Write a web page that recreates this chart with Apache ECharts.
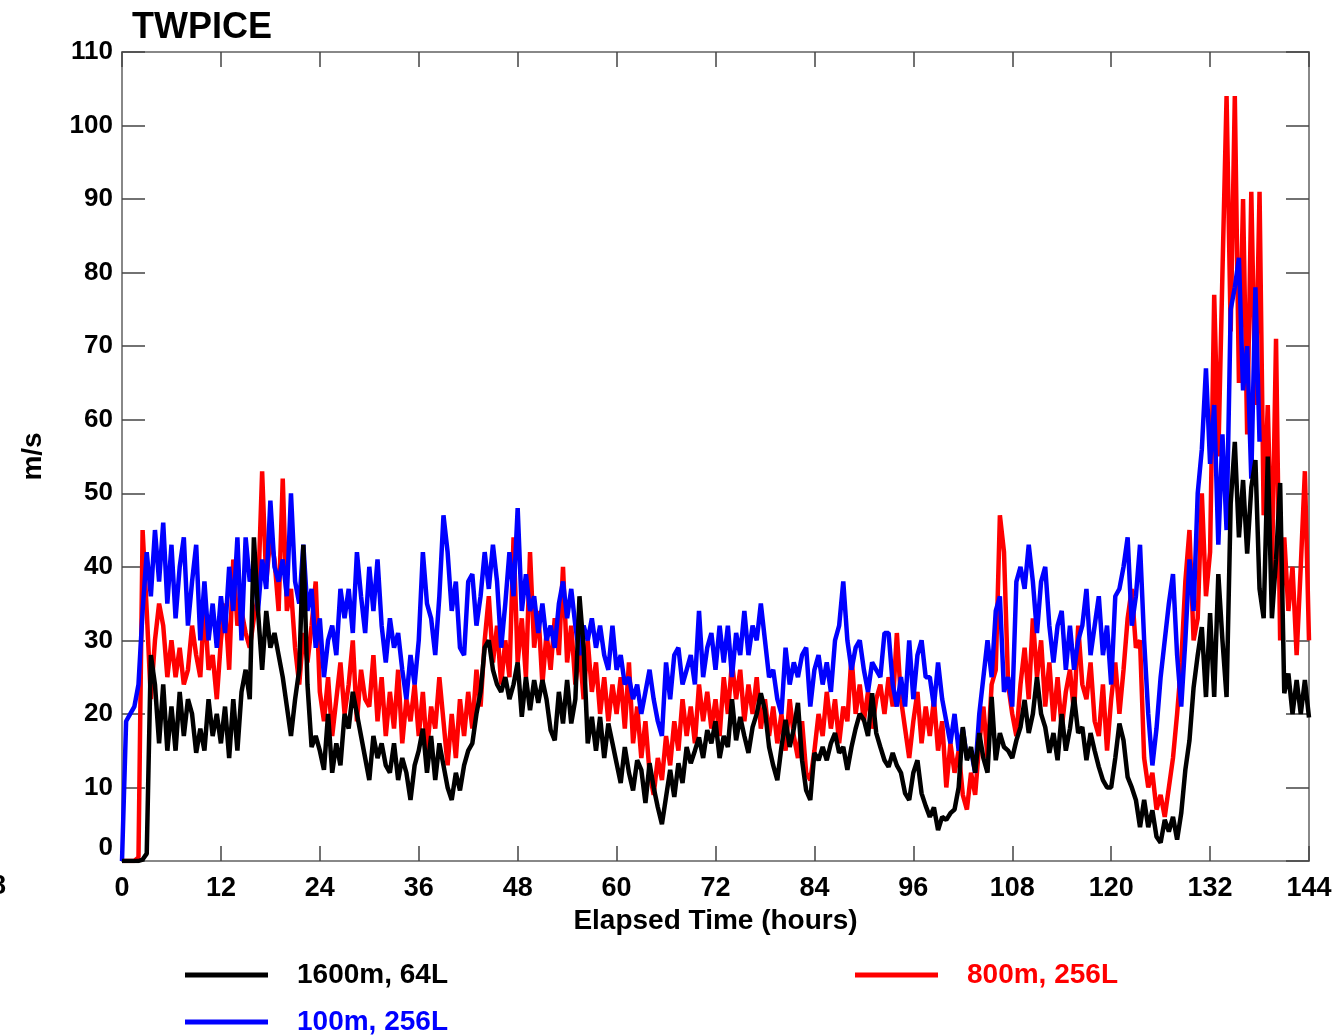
<!DOCTYPE html>
<html>
<head>
<meta charset="utf-8">
<script src="https://cdn.jsdelivr.net/npm/echarts@6/dist/echarts.min.js"></script>
<style>
  html, body { margin: 0; padding: 0; background: #fff; }
  #main { width: 1338px; height: 1035px; }
</style>
</head>
<body>
<div id="main"></div>
<script>
// sample spacing of the curves, hours
var step = 0.5;

// 1600m, 64L
var black = [
  0, 0, 0, 0, 0, 0.2, 1, 28, 24, 16, 24, 15,
  21, 15, 23, 17, 22, 20, 14.7, 18, 15, 22, 17, 20,
  16, 21, 14, 22, 15, 23, 26, 22, 44, 34, 26, 34,
  29, 31, 28, 25, 21, 17, 22, 26, 43, 24, 15.5, 17,
  15, 12.4, 20, 12, 16, 13, 20, 18, 23, 20, 17, 14,
  11, 17, 14, 16, 13, 12, 16, 11, 14, 12, 8.3, 13,
  15, 18, 12, 17, 11, 16, 13, 10, 8.3, 12, 9.6, 13,
  15, 16, 20, 23, 29, 30, 26, 24, 23, 25, 22, 24,
  27, 19.6, 25, 20.5, 24.6, 21.5, 24.6, 22, 17.8, 16.4, 23, 18.7,
  24.6, 18.7, 22, 36, 29, 16, 19.6, 15, 19.6, 14, 18.7, 16,
  13.3, 10.6, 15.5, 12, 9.6, 13.7, 12.4, 7.9, 13.3, 10, 7.3, 5,
  8.7, 12.4, 8.7, 13.3, 10.6, 15.5, 13.3, 15, 16.8, 14, 17.8, 16,
  19, 14, 17, 15.5, 22, 16.4, 19.6, 17, 14.7, 18.2, 20, 22.8,
  20.5, 15.5, 13, 11, 15.5, 19.2, 15.5, 18, 21.5, 13.7, 9.6, 8.3,
  14.7, 13.7, 15.5, 13.7, 16, 17.4, 14.7, 15.5, 12.4, 15.5, 18, 20,
  19.2, 17, 22.8, 17.4, 15.5, 13.7, 12.8, 14.7, 13, 12, 9.2, 8.3,
  12, 13.7, 9.2, 7.5, 6, 7.3, 4.2, 6, 5.6, 6.5, 7, 10,
  18.2, 13.7, 15.5, 12, 17.4, 14, 12, 22.3, 13.7, 17.4, 15.5, 15,
  14, 16.4, 18.2, 21.9, 17.4, 20, 25, 20, 18.2, 14.7, 17.4, 13.7,
  20, 15, 18, 22.3, 17.4, 18.2, 13.7, 17.4, 15, 12.8, 11, 10,
  10, 14, 18.7, 16.4, 11.4, 10, 8.3, 4.6, 8.3, 4.6, 6.9, 3.3,
  2.5, 5.6, 4, 6, 2.9, 6.5, 12.4, 16.4, 23.6, 28, 31.8, 22.3,
  33.7, 22.3, 39, 30, 22.3, 48.6, 57, 44, 51.8, 41.8, 50.8, 54.5,
  37, 33, 55, 33, 41, 51.4, 22.8, 25.5, 20, 24.6, 20, 24.6, 19.5
];

// 800m, 256L
var red = [
  0, 0, 0, 0, 0.5, 45, 34, 22, 30, 35, 32, 25,
  30, 25, 29, 24, 26, 32, 28, 25, 35, 26, 28, 22,
  30, 35, 26, 41, 32, 34, 31, 29, 33, 36, 53, 38,
  44, 41, 34, 52, 34, 37, 29, 24, 31, 27, 32, 38,
  23, 19, 25, 17, 22, 27, 20, 24, 30, 19, 26, 22,
  21, 28, 19, 25, 17, 23, 18, 26, 16, 22, 19, 24,
  17, 23, 15, 21, 18, 25, 19, 13, 20, 14, 22, 17,
  23, 18, 26, 21, 30, 36, 27, 32, 24, 30, 25, 44,
  27, 33, 25, 42, 29, 34, 24, 31, 26, 33, 28, 40,
  27, 32, 24, 29, 22, 30, 23, 27, 20, 25, 19, 24,
  20, 25, 18, 27, 16, 21, 14, 19, 12, 9, 14, 11,
  17, 13, 19, 15, 22, 17, 21, 16, 24, 19, 23, 18,
  22, 17, 25, 20, 27, 22, 26, 19, 24, 20, 25, 18,
  22, 17, 21, 16, 20, 15, 22, 17, 14, 19, 12, 11,
  15, 20, 17, 23, 18, 22, 16, 21, 19, 28, 20, 24,
  19, 23, 18, 22, 24, 20, 25, 21, 31, 22, 18, 14,
  19, 23, 16, 21, 17, 22, 15, 19, 10, 16, 12, 15,
  9, 7, 12, 9, 16, 21, 14, 24, 26, 47, 42, 24,
  20, 17, 24, 29, 22, 33, 25, 30, 21, 27, 19, 25,
  18, 23, 26, 20, 32, 24, 22, 27, 19, 17, 24, 15,
  22, 27, 20, 26, 33, 37, 29, 30, 14, 10, 12, 7,
  9, 6, 10, 14, 20, 27, 38, 45, 30, 33, 50, 36,
  42, 77, 55, 80, 104, 72, 104, 65, 90, 58, 91, 62,
  91, 47, 62, 39, 71, 30, 44, 34, 40, 28, 40, 53, 30
];

// 100m, 256L (run stops near 138 h)
var blue = [
  0, 19, 20, 21, 24, 34, 42, 36, 45, 38, 46, 35,
  43, 33, 40, 44, 32, 38, 43, 30, 38, 30, 35, 29,
  36, 31, 40, 34, 44, 30, 44, 38, 40, 34, 41, 37,
  49, 40, 38, 41, 36, 50, 38, 35, 43, 34, 37, 29,
  33, 25, 30, 32, 28, 37, 33, 37, 31, 42, 36, 31,
  40, 34, 41, 32, 27, 33, 29, 31, 26, 22, 28, 24,
  30, 42, 35, 33, 28, 36, 47, 42, 34, 38, 29, 28,
  38, 39, 32, 36, 42, 37, 43, 38, 29, 35, 42, 36,
  48, 34, 39, 34, 36, 31, 35, 30, 32, 29, 35, 38,
  33, 37, 32, 28, 32, 30, 33, 29, 32, 28, 26, 32,
  26, 28, 24, 25, 22, 24, 20, 23, 26, 22, 19, 17,
  27, 22, 28, 29, 24, 26, 28, 24, 34, 25, 29, 31,
  26, 32, 27, 32, 25, 31, 28, 34, 28, 32, 30, 35,
  30, 25, 26, 22, 20, 29, 24, 27, 25, 28, 29, 21,
  26, 28, 24, 27, 23, 30, 32, 38, 30, 26, 29, 30,
  26, 23, 27, 26, 25, 31, 31, 24, 21, 25, 21, 30,
  22, 28, 30, 25, 25, 21, 27, 22, 19, 16, 20, 15,
  18, 14, 15, 12, 20, 25, 30, 25, 34, 36, 23, 25,
  21, 38, 40, 37, 43, 38, 31, 38, 40, 32, 27, 32,
  34, 26, 32, 26, 30, 32, 37, 28, 32, 36, 28, 32,
  24, 36, 37, 40, 44, 32, 36, 43, 30, 20, 13, 18,
  25, 30, 35, 39, 28, 21, 30, 41, 34, 50, 56, 67,
  54, 62, 43, 58, 45, 75, 78, 82, 64, 70, 52, 78,
  57
];

var names = ['1600m, 64L', '800m, 256L', '100m, 256L'];

function pairs(vals) {
  return vals.map(function (v, i) { return [i * step, v]; });
}

var FONT = 'Liberation Sans';
// onZero off, otherwise the right/top axes get pulled onto the zero line
var frame = { show: true, onZero: false, lineStyle: { color: '#888', width: 2 } };
var tick = function (len) {
  return { inside: true, length: len, lineStyle: { color: '#444', width: 1.5 } };
};

function legendFor(name, color, left, top) {
  return {
    data: [{ name: name, textStyle: { color: color } }],
    left: left, top: top,
    icon: 'rect', itemWidth: 83, itemHeight: 5,
    textStyle: { fontSize: 28, fontWeight: 'bold', fontFamily: FONT, padding: [0, 0, 0, 24] }
  };
}

function lineSeries(name, vals, color) {
  return {
    name: name, type: 'line', data: pairs(vals),
    showSymbol: false, symbol: 'none', sampling: null,
    lineStyle: { color: color, width: 4.5 },
    itemStyle: { color: color },
    emphasis: { disabled: true }
  };
}

var myChart = echarts.init(document.getElementById('main'));
myChart.setOption({
  animation: false,
  title: {
    text: 'TWPICE', left: 127, top: 5,
    textStyle: { fontSize: 36, fontWeight: 'bold', fontFamily: FONT, color: '#000' }
  },
  grid: { left: 122, right: 29, top: 52, bottom: 174 },
  legend: [
    legendFor(names[0], '#000000', 180, 956),
    legendFor(names[1], '#ff0000', 850, 956),
    legendFor(names[2], '#0000ff', 180, 1003)
  ],
  xAxis: [
    {
      type: 'value', min: 0, max: 144, interval: 12, position: 'bottom',
      axisLine: frame, axisTick: tick(15),
      axisLabel: { margin: 14, fontSize: 27, fontWeight: 'bold', color: '#000', fontFamily: FONT },
      splitLine: { show: false },
      name: 'Elapsed Time (hours)', nameLocation: 'middle', nameGap: 43,
      nameTextStyle: { fontSize: 28, fontWeight: 'bold', color: '#000', fontFamily: FONT }
    },
    {
      type: 'value', min: 0, max: 144, interval: 12, position: 'top',
      axisLine: frame, axisTick: tick(15),
      axisLabel: { show: false },
      splitLine: { show: false }
    }
  ],
  yAxis: [
    {
      type: 'value', min: 0, max: 110, interval: 10, position: 'left',
      axisLine: frame, axisTick: tick(23),
      axisLabel: {
        margin: 9, fontSize: 26, fontWeight: 'bold', color: '#000', fontFamily: FONT,
        verticalAlignMinLabel: 'bottom'
      },
      splitLine: { show: false },
      name: 'm/s', nameLocation: 'middle', nameGap: 75, nameRotate: 90,
      nameTextStyle: { fontSize: 28, fontWeight: 'bold', color: '#000', fontFamily: FONT }
    },
    {
      type: 'value', min: 0, max: 110, interval: 10, position: 'right',
      axisLine: frame, axisTick: tick(23),
      axisLabel: { show: false },
      splitLine: { show: false }
    }
  ],
  graphic: [
    { type: 'text', left: -9, top: 873, style: { text: '8', font: 'bold 27px "Liberation Sans"', fill: '#000' } }
  ],
  // draw order: red under blue, black on top
  series: [
    lineSeries(names[1], red, '#ff0000'),
    lineSeries(names[2], blue, '#0000ff'),
    lineSeries(names[0], black, '#000000')
  ]
});
</script>
</body>
</html>
